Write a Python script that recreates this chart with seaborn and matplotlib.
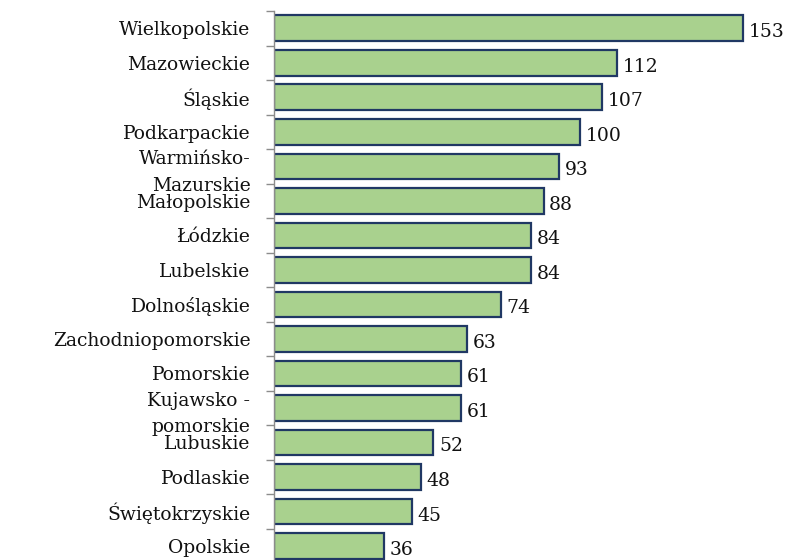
import pandas as pd
import matplotlib.pyplot as plt
import seaborn as sns
from matplotlib.ticker import FixedLocator

regions = ["Wielkopolskie", "Mazowieckie", "Śląskie", "Podkarpackie",
           "Warmińsko-\nMazurskie", "Małopolskie", "Łódzkie", "Lubelskie",
           "Dolnośląskie", "Zachodniopomorskie", "Pomorskie",
           "Kujawsko -\npomorskie", "Lubuskie", "Podlaskie",
           "Świętokrzyskie", "Opolskie"]
counts = [153, 112, 107, 100, 93, 88, 84, 84, 74, 63, 61, 61, 52, 48, 45, 36]

df = pd.DataFrame({"region": regions, "count": counts})

sns.set_style("white")
plt.rcParams["font.family"] = ["DejaVu Serif"]

fig = plt.figure(figsize=(7.98, 5.6), dpi=100)
ax = fig.add_axes([274 / 798, 0.0, 1 - 274 / 798, 1 - 11 / 560])

sns.barplot(data=df, y="region", x="count", orient="h", color="#a9d18e",
            edgecolor="#203864", linewidth=1.6, width=0.74, saturation=1, ax=ax)

for i, v in enumerate(counts):
    ax.annotate(str(v), (v, i), xytext=(4, -3), textcoords="offset points",
                ha="left", va="center", fontsize=13.5, color="#111111")

ax.set_xlim(0, 171)
ax.set_ylim(15.41, -0.5)
ax.set_xlabel("")
ax.set_ylabel("")
ax.set_xticks([])

for lbl in ax.get_yticklabels():
    lbl.set_linespacing(1.6)

ax.tick_params(axis="y", which="major", left=False, length=0, pad=17,
               labelsize=13.5, labelcolor="#111111")
ax.yaxis.set_minor_locator(FixedLocator([i - 0.5 for i in range(len(regions) + 1)]))
ax.tick_params(axis="y", which="minor", left=True, length=6,
               color="#8c8c8c", width=1)

for side in ["top", "right", "bottom"]:
    ax.spines[side].set_visible(False)
ax.spines["left"].set_color("#8c8c8c")
ax.spines["left"].set_linewidth(1)

fig.savefig("out.png", dpi=100)
